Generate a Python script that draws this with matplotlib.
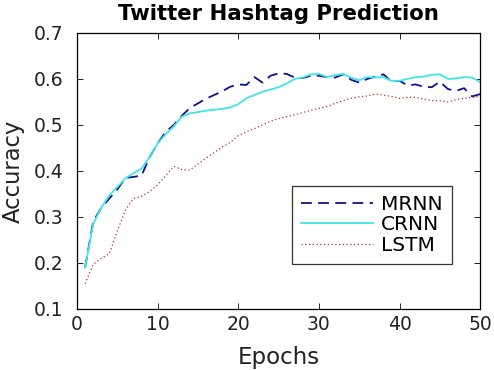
import matplotlib
matplotlib.use("Agg")
import matplotlib.pyplot as plt
import numpy as np

plt.rcParams['font.family'] = ['DejaVu Sans']

epochs = list(range(1, 51))
mrnn = [0.19, 0.29, 0.32, 0.34, 0.36, 0.385, 0.387, 0.39, 0.43, 0.46,
        0.485, 0.50, 0.52, 0.537, 0.547, 0.557, 0.565, 0.573, 0.583, 0.588,
        0.587, 0.604, 0.592, 0.607, 0.612, 0.611, 0.603, 0.602, 0.607, 0.607,
        0.604, 0.603, 0.61, 0.598, 0.592, 0.60, 0.605, 0.61, 0.594, 0.596,
        0.586, 0.588, 0.583, 0.582, 0.594, 0.578, 0.574, 0.58, 0.562, 0.567]
crnn = [0.19, 0.285, 0.32, 0.347, 0.365, 0.384, 0.395, 0.405, 0.43, 0.46,
        0.48, 0.497, 0.518, 0.525, 0.528, 0.531, 0.533, 0.535, 0.538, 0.545,
        0.558, 0.565, 0.572, 0.577, 0.582, 0.59, 0.60, 0.603, 0.61, 0.611,
        0.604, 0.608, 0.611, 0.603, 0.597, 0.604, 0.603, 0.604, 0.596, 0.596,
        0.60, 0.604, 0.605, 0.609, 0.61, 0.60, 0.601, 0.604, 0.603, 0.593]
lstm = [0.155, 0.197, 0.21, 0.22, 0.27, 0.315, 0.34, 0.345, 0.355, 0.37,
        0.39, 0.41, 0.403, 0.402, 0.415, 0.428, 0.44, 0.452, 0.462, 0.477,
        0.485, 0.492, 0.50, 0.508, 0.514, 0.518, 0.522, 0.527, 0.532, 0.536,
        0.54, 0.547, 0.553, 0.558, 0.561, 0.563, 0.567, 0.565, 0.562, 0.558,
        0.56, 0.56, 0.556, 0.553, 0.553, 0.55, 0.555, 0.558, 0.56, 0.562]

xticks = [0, 10, 20, 30, 40, 50]
yticks = [0.1, 0.2, 0.3, 0.4, 0.5, 0.6, 0.7]

fig = plt.figure(figsize=(4.94, 3.70), dpi=100)
ax = fig.add_axes([0.156, 0.165, 0.816, 0.746])

ax.plot(epochs, mrnn, color='#10108c', linestyle=(0, (6, 3.5)), linewidth=1.3, label='MRNN')
ax.plot(epochs, crnn, color='#3ee6e6', linestyle='-', linewidth=1.3, label='CRNN')
ax.plot(epochs, lstm, color='#b03030', linestyle=(0, (1, 2)), linewidth=0.9, label='LSTM')

ax.set_xlim(0, 50)
ax.set_ylim(0.1, 0.7)
ax.set_xticks(xticks)
ax.set_yticks(yticks)
ax.set_xticklabels([str(t) for t in xticks])
ax.set_yticklabels([f"{t:.1f}" for t in yticks])
ax.tick_params(axis='both', direction='in', length=4, width=0.6, labelsize=13.5,
               top=True, right=True, labelcolor='#222222')
ax.tick_params(axis='y', pad=9.5)
ax.tick_params(axis='x', pad=4)
for s in ax.spines.values():
    s.set_linewidth(0.9)

ax.set_xlabel('Epochs', fontsize=16.5, labelpad=9, color='#222222')
ax.set_ylabel('Accuracy', fontsize=16.3, labelpad=7, color='#222222')
ax.set_title('Twitter Hashtag Prediction', fontsize=15.3, fontweight='bold', pad=9)

leg = ax.legend(loc='lower right', bbox_to_anchor=(0.93, 0.163), fontsize=14.5,
                handlelength=3.6, frameon=True, fancybox=False, borderpad=0.45,
                labelspacing=0.08, handletextpad=0.4, borderaxespad=0)
leg.get_frame().set_edgecolor('black')
leg.get_frame().set_linewidth(0.9)

fig.savefig('out.png', dpi=100)
